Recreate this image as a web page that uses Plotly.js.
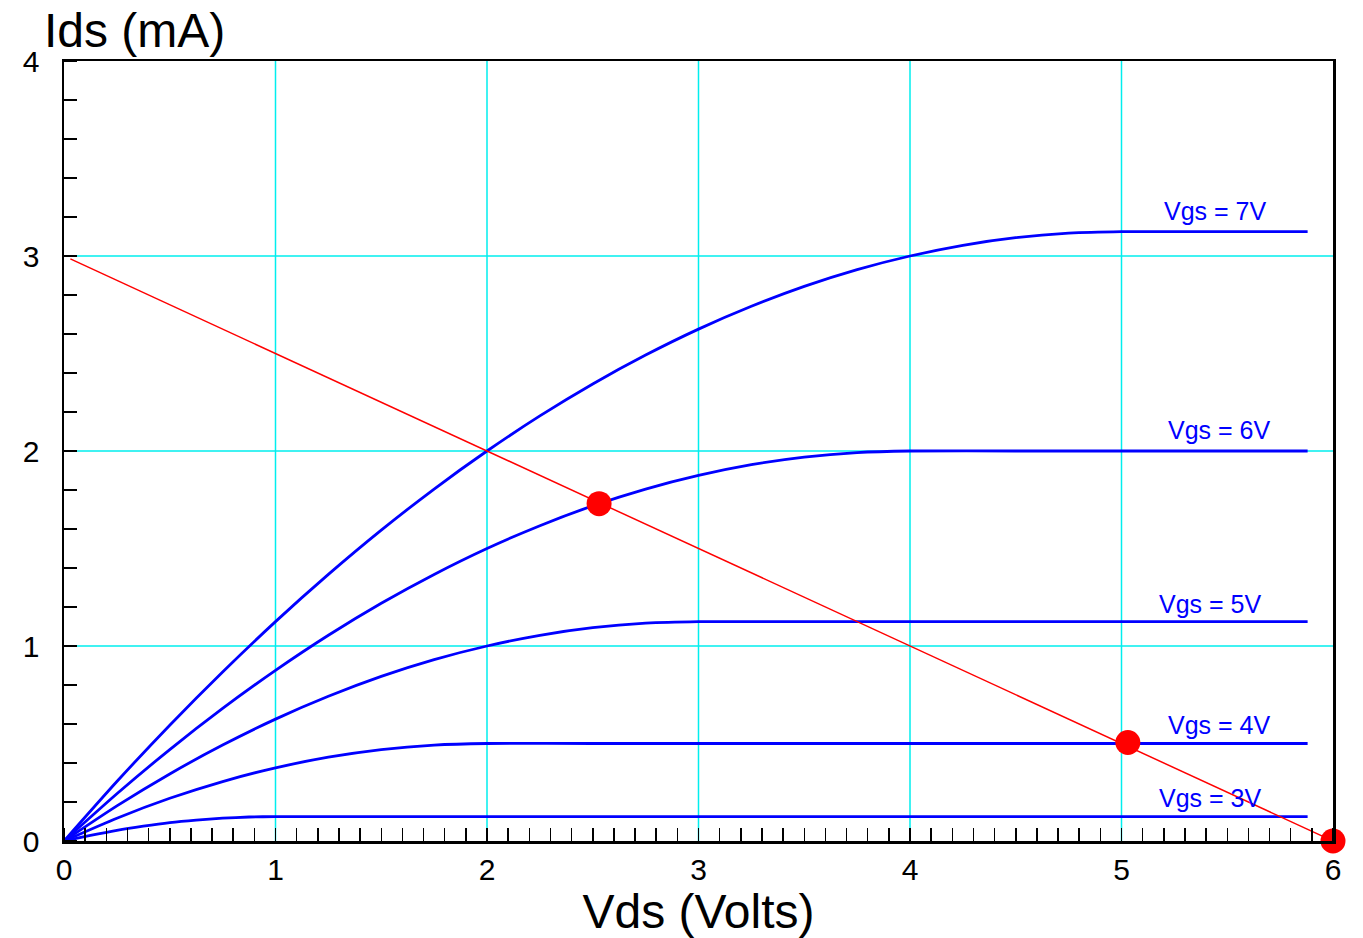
<!DOCTYPE html>
<html>
<head>
<meta charset="utf-8">
<script src="https://cdn.plot.ly/plotly-3.0.1.min.js"></script>
<style>
  html, body { margin: 0; padding: 0; background: #fff; }
  #chart { width: 1363px; height: 938px; }
</style>
</head>
<body>
<div id="chart"></div>
<script>
// Drain current curves (Vds in volts, Ids in mA)
const vgs7X = [0, 0.25, 0.5, 0.75, 1, 1.25, 1.5, 1.75, 2, 2.25, 2.5, 2.75, 3, 3.25, 3.5, 3.75, 4, 4.25, 4.5, 4.75, 5, 5.5, 5.88];
const vgs7Y = [0, 0.305, 0.594, 0.867, 1.125, 1.367, 1.594, 1.805, 2.0, 2.18, 2.344, 2.492, 2.625, 2.742, 2.844, 2.93, 3.0, 3.055, 3.094, 3.117, 3.125, 3.125, 3.125];

const vgs6X = [0, 0.25, 0.5, 0.75, 1, 1.25, 1.5, 1.75, 2, 2.25, 2.5, 2.75, 3, 3.25, 3.5, 3.75, 4, 4.5, 5.88];
const vgs6Y = [0, 0.242, 0.469, 0.68, 0.875, 1.055, 1.219, 1.367, 1.5, 1.617, 1.719, 1.805, 1.875, 1.93, 1.969, 1.992, 2.0, 2.0, 2.0];

const vgs5X = [0, 0.25, 0.5, 0.75, 1, 1.25, 1.5, 1.75, 2, 2.25, 2.5, 2.75, 3, 3.5, 5.88];
const vgs5Y = [0, 0.18, 0.344, 0.492, 0.625, 0.742, 0.844, 0.93, 1.0, 1.055, 1.094, 1.117, 1.125, 1.125, 1.125];

const vgs4X = [0, 0.25, 0.5, 0.75, 1, 1.25, 1.5, 1.75, 2, 2.5, 5.88];
const vgs4Y = [0, 0.117, 0.219, 0.305, 0.375, 0.43, 0.469, 0.492, 0.5, 0.5, 0.5];

const vgs3X = [0, 0.125, 0.25, 0.375, 0.5, 0.625, 0.75, 0.875, 1, 1.25, 5.88];
const vgs3Y = [0, 0.029, 0.055, 0.076, 0.094, 0.107, 0.117, 0.123, 0.125, 0.125, 0.125];

// Load line
const loadX = [0.03, 6.0];
const loadY = [2.985, 0.0];

// Operating points
const qX = [2.53, 5.03, 6.0];
const qY = [1.73, 0.505, 0.0];

// Curve labels
const labelText = ["Vgs = 7V", "Vgs = 6V", "Vgs = 5V", "Vgs = 4V", "Vgs = 3V"];
const labelX = [5.44, 5.46, 5.42, 5.46, 5.42];
const labelY = [3.23, 2.11, 1.215, 0.595, 0.22];

// Axis ticks
const xTicks = [0, 1, 2, 3, 4, 5, 6];
const yTicks = [0, 1, 2, 3, 4];

const blue = '#0000ff';
const cyan = '#00eeee';
const font = 'Liberation Sans, Arial, sans-serif';

const curve = (x, y) => ({
  x: x, y: y, type: 'scatter', mode: 'lines',
  line: { color: blue, width: 2.8, shape: 'spline', smoothing: 0.6 },
  hoverinfo: 'skip', showlegend: false
});

const traces = [
  curve(vgs7X, vgs7Y),
  curve(vgs6X, vgs6Y),
  curve(vgs5X, vgs5Y),
  curve(vgs4X, vgs4Y),
  curve(vgs3X, vgs3Y),
  {
    x: loadX, y: loadY, type: 'scatter', mode: 'lines',
    line: { color: '#ff0000', width: 1.5 }, showlegend: false, cliponaxis: false
  },
  {
    x: qX, y: qY, type: 'scatter', mode: 'markers',
    marker: { color: '#ff0000', size: 25 }, showlegend: false, cliponaxis: false
  }
];

const annotations = labelText.map((t, i) => ({
  x: labelX[i], y: labelY[i], xref: 'x', yref: 'y', text: t, showarrow: false,
  font: { family: font, size: 25, color: blue },
  xanchor: 'center', yanchor: 'middle'
}));
annotations.push({
  xref: 'paper', yref: 'paper', x: -0.0175, y: 1.0, xanchor: 'left', yanchor: 'bottom',
  text: 'Ids (mA)', showarrow: false, yshift: 2,
  font: { family: font, size: 48, color: '#000' }
});

const tickFont = { family: font, size: 30, color: '#000' };

// interior grid lines only (the frame stays black)
const gridShapes = [];
xTicks.slice(1, -1).forEach(v => gridShapes.push({
  type: 'line', xref: 'x', yref: 'paper', x0: v, x1: v, y0: 0, y1: 1,
  line: { color: cyan, width: 1.5 }, layer: 'below'
}));
yTicks.slice(1, -1).forEach(v => gridShapes.push({
  type: 'line', xref: 'paper', yref: 'y', x0: 0, x1: 1, y0: v, y1: v,
  line: { color: cyan, width: 1.5 }, layer: 'below'
}));

const layout = {
  width: 1363, height: 938,
  margin: { l: 64, r: 30, t: 61, b: 97, pad: 0 },
  paper_bgcolor: '#fff', plot_bgcolor: '#fff',
  showlegend: false,
  shapes: gridShapes,
  xaxis: {
    range: [0, 6], tickvals: xTicks, ticktext: xTicks.map(String),
    showgrid: false,
    showline: true, linecolor: '#000', linewidth: 2.5, mirror: true,
    ticks: '', zeroline: false, tickfont: tickFont, ticklabelstandoff: 0,
    minor: { dtick: 0.1, tick0: 0, ticks: 'inside', ticklen: 13, tickwidth: 1.5, tickcolor: '#000', showgrid: false },
    title: { text: 'Vds (Volts)', font: { family: font, size: 48, color: '#000' }, standoff: 4 },
    fixedrange: true
  },
  yaxis: {
    range: [0, 4], tickvals: yTicks, ticktext: yTicks.map(String),
    showgrid: false,
    showline: true, linecolor: '#000', linewidth: 2.5, mirror: true,
    ticks: '', zeroline: false, tickfont: tickFont, ticklabelstandoff: 16,
    minor: { dtick: 0.2, tick0: 0, ticks: 'inside', ticklen: 13, tickwidth: 1.5, tickcolor: '#000', showgrid: false },
    fixedrange: true
  },
  annotations: annotations
};

Plotly.newPlot('chart', traces, layout, { displayModeBar: false, staticPlot: true });
</script>
</body>
</html>
